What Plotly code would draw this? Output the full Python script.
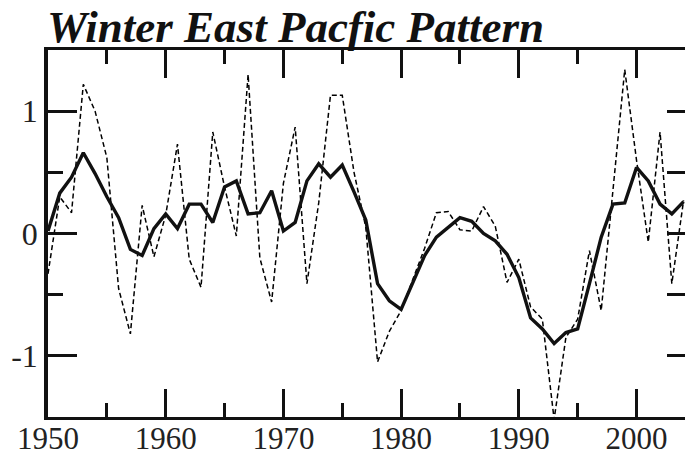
import plotly.graph_objects as go

years = list(range(1950, 2005))

annual = [-0.33, 0.30, 0.17, 1.22, 1.00, 0.62, -0.45, -0.82, 0.23, -0.19,
          0.15, 0.73, -0.21, -0.44, 0.83, 0.38, -0.02, 1.30, -0.20, -0.56,
          0.41, 0.87, -0.41, 0.25, 1.13, 1.13, 0.50, 0.05, -1.05, -0.80,
          -0.63, -0.38, -0.12, 0.17, 0.18, 0.03, 0.02, 0.22, 0.06, -0.40,
          -0.21, -0.60, -0.70, -1.52, -0.85, -0.70, -0.14, -0.63, 0.35, 1.34,
          0.60, -0.07, 0.83, -0.41, 0.27]

smooth = [0.02, 0.33, 0.46, 0.66, 0.49, 0.30, 0.13, -0.13, -0.18, 0.04,
          0.16, 0.04, 0.24, 0.24, 0.09, 0.38, 0.43, 0.16, 0.17, 0.35,
          0.02, 0.09, 0.43, 0.57, 0.46, 0.56, 0.34, 0.11, -0.41, -0.55,
          -0.62, -0.40, -0.18, -0.03, 0.05, 0.13, 0.10, 0.00, -0.06, -0.17,
          -0.36, -0.69, -0.78, -0.90, -0.81, -0.78, -0.41, -0.03, 0.24, 0.25,
          0.54, 0.43, 0.24, 0.16, 0.26]

x_major = [1950, 1960, 1970, 1980, 1990, 2000]
x_labels = ["1950", "1960", "1970", "1980", "1990", "2000"]
x_minor = [1955, 1965, 1975, 1985, 1995]
y_major = [-1, 0, 1]
y_labels = ["-1", "0", "1"]
y_minor = [-0.5, 0.5]

title_text = "Winter East Pacfic Pattern"

serif = "Liberation Serif, Times New Roman, serif"
ink = "#111111"
XR = [1950, 2004.12]
YR = [-1.5, 1.5]

fig = go.Figure()
fig.add_trace(go.Scatter(x=years, y=annual, mode="lines",
                         line=dict(color="black", width=1.5, dash="5px,3px"),
                         hoverinfo="skip", showlegend=False))
fig.add_trace(go.Scatter(x=years, y=smooth, mode="lines",
                         line=dict(color=ink, width=3.4),
                         hoverinfo="skip", showlegend=False))
# invisible traces anchoring extra tick-only axes
fig.add_trace(go.Scatter(x=years, y=smooth, mode="lines", xaxis="x2", yaxis="y2",
                         line=dict(color="rgba(0,0,0,0)", width=0),
                         hoverinfo="skip", showlegend=False))
fig.add_trace(go.Scatter(x=years, y=smooth, mode="lines", xaxis="x3", yaxis="y3",
                         line=dict(color="rgba(0,0,0,0)", width=0),
                         hoverinfo="skip", showlegend=False))

tick_common = dict(showgrid=False, zeroline=False, ticks="inside",
                   tickwidth=3, tickcolor=ink, automargin=False)

fig.update_layout(
    template="none",
    width=685, height=456,
    margin=dict(l=48, r=0, t=50, b=39),
    paper_bgcolor="white", plot_bgcolor="white",
    title=dict(text="<b><i>" + title_text + "</i></b>",
               font=dict(family=serif, size=45, color=ink),
               x=47 / 685, xanchor="left", xref="container",
               y=1 - 42 / 456, yanchor="bottom", yref="container"),
    # main axes: major ticks, labels, frame lines
    xaxis=dict(range=XR, showline=True, linecolor=ink, linewidth=3,
               mirror="ticks", tickmode="array", tickvals=x_major,
               ticktext=x_labels, ticklen=28, ticklabelstandoff=-8,
               tickfont=dict(family=serif, size=31, color="#222222"),
               **tick_common),
    yaxis=dict(range=YR, showline=True, linecolor=ink, linewidth=3.5,
               tickmode="array", tickvals=y_major, ticktext=y_labels,
               ticklen=29, tickfont=dict(family=serif, size=32, color="#222222"),
               **tick_common),
    # minor x ticks (bottom + top) and minor y ticks (left)
    xaxis2=dict(range=XR, overlaying="x", showline=False, mirror="ticks",
                tickmode="array", tickvals=x_minor, ticklen=14,
                showticklabels=False, **tick_common),
    yaxis2=dict(range=YR, overlaying="y", showline=False,
                tickmode="array", tickvals=y_minor, ticklen=15,
                showticklabels=False, **tick_common),
    # right-hand ticks (axis line itself lies beyond the visible edge)
    xaxis3=dict(range=XR, overlaying="x", visible=False),
    yaxis3=dict(range=YR, overlaying="y", side="right", showline=False,
                tickmode="array", tickvals=[-1, -0.5, 0, 0.5, 1],
                ticktext=["", "", "", "", ""], ticklen=18,
                showticklabels=False, **tick_common),
)

fig.write_html("out.html")
